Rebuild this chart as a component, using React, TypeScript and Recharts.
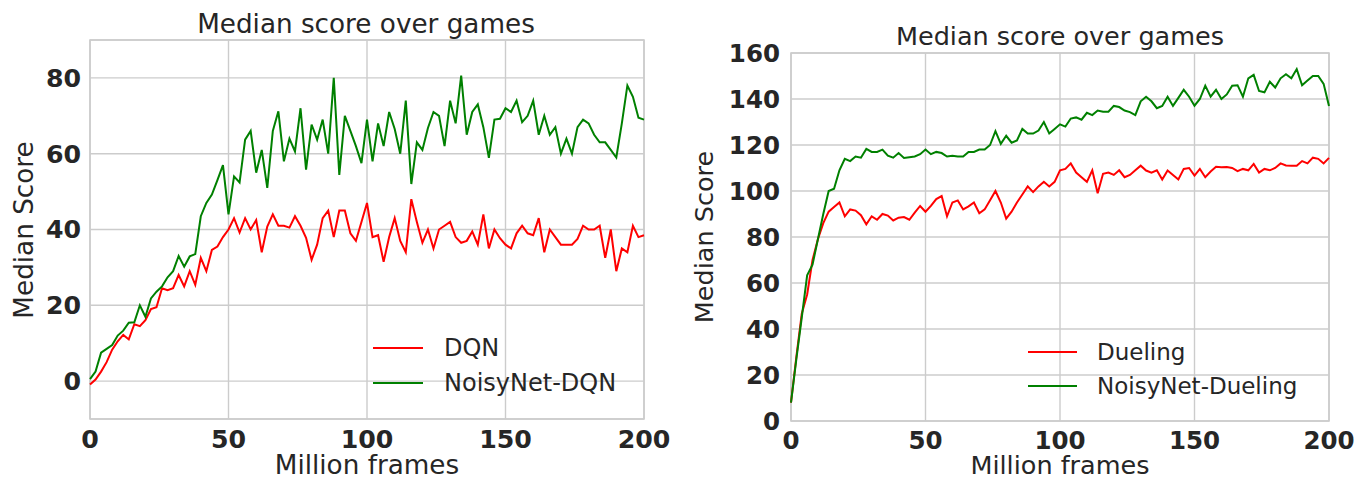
import { LineChart, Line, XAxis, YAxis, CartesianGrid, ReferenceArea } from "recharts";

// million frames, sampled every 2M
const frames = [
  0, 2, 4, 6, 8, 10, 12, 14, 16, 18, 20, 22, 24, 26, 28, 30, 32, 34, 36, 38, 40, 42, 44, 46, 48, 50,
  52, 54, 56, 58, 60, 62, 64, 66, 68, 70, 72, 74, 76, 78, 80, 82, 84, 86, 88, 90, 92, 94, 96, 98, 100,
  102, 104, 106, 108, 110, 112, 114, 116, 118, 120, 122, 124, 126, 128, 130, 132, 134, 136, 138, 140,
  142, 144, 146, 148, 150, 152, 154, 156, 158, 160, 162, 164, 166, 168, 170, 172, 174, 176, 178, 180,
  182, 184, 186, 188, 190, 192, 194, 196, 198, 200,
];

const dqn = [
  -0.9, 0.4, 2.5, 5, 8.3, 10.5, 12.2, 11, 15, 14.5, 16.1, 19, 19.5, 24.5, 24, 24.5, 28, 25, 29, 25.4,
  32.5, 29, 34.6, 35.5, 38, 40, 43, 39.2, 43, 40, 42.5, 34, 40.8, 44, 41, 41, 40.5, 43.5, 41, 37.8,
  32, 36, 43, 45, 38, 45, 45, 39, 37, 42, 47, 38, 38.5, 31.5, 38, 43, 37, 34, 48, 42, 36.5, 40, 35,
  40, 41, 42, 38, 36.5, 37, 39.5, 36, 44, 35, 40, 37.7, 36, 35, 39, 41, 39, 38.5, 43, 34, 40, 38, 36,
  36, 36, 37.5, 41, 40, 40, 41, 32.5, 40, 29, 35, 34, 41, 38, 38.5,
];

const noisyDqn = [
  0.5, 2.5, 7.5, 8.5, 9.5, 12, 13.3, 15.4, 15.5, 20, 17, 21.8, 23.6, 25, 27.4, 29, 33, 30.2, 32.9,
  33.5, 43.5, 47, 49.2, 53, 57, 44, 54, 52.4, 63.7, 66, 55, 61, 51, 66, 71.2, 58, 64, 60.6, 72, 55.8,
  67.7, 63.7, 69, 60, 80, 54.4, 70, 66, 62, 57.5, 69, 58, 68, 62, 71, 66.5, 60, 74, 52, 63, 61, 66.8,
  71, 70, 62, 74, 68, 80.6, 65, 71, 73, 67, 58.9, 69, 69.2, 72, 71, 74, 68.3, 70, 74, 65, 70, 65, 67,
  60, 64, 60, 67, 69, 68, 65, 63, 63, 61, 59, 68, 78, 75, 69.5, 69,
];

const dueling = [
  8, 28, 46.6, 55, 70, 79, 86, 91, 93, 95, 89, 92, 91.5, 89.5, 85.5, 89, 87.5, 90, 89.3, 87.2, 88.4,
  88.7, 87.5, 90.6, 93.5, 91, 93.5, 96.5, 97.8, 89, 95, 95.9, 92, 93.3, 95, 90.3, 92, 96, 100, 95, 88,
  91, 95, 98.5, 102, 99.5, 102, 104, 102, 104, 109, 109.6, 112, 108, 106, 104, 109, 99, 107.5, 108,
  107, 109, 106, 107, 109, 111, 108.9, 108, 109, 105, 108.9, 107, 105, 109.6, 110, 106.7, 109.6, 106,
  108.5, 110.5, 110.3, 110.4, 110, 108.6, 109.6, 109, 111.8, 108, 109.6, 109, 110, 112, 111.1, 111,
  111, 113, 112, 114.5, 114, 112, 114.4,
];

const noisyDueling = [
  8, 27, 45, 63.3, 68, 79, 90, 100, 101, 109, 114, 113, 115, 114.5, 118.3, 117, 117, 118, 115.4,
  114.5, 116.5, 114.4, 114.7, 115, 116, 118, 116, 117, 116.5, 115, 115.3, 115, 115, 117, 117, 118,
  118, 120, 126, 120.5, 124, 121, 122, 127, 125, 125, 126.3, 130, 125, 127, 129, 128, 131.5, 132, 131,
  134, 133, 135, 134.5, 134.5, 137, 136.5, 135, 134.3, 133, 139, 141, 139, 136, 137, 141, 137, 140.5,
  144, 141, 137.1, 140, 145.8, 141, 144, 140, 142, 145.8, 146, 141, 149, 150.5, 143.5, 142.9, 147.5,
  145, 149, 150.8, 149, 153, 146, 148, 150, 150, 146.6, 137,
];

const xTicks = [0, 50, 100, 150, 200];
const leftYTicks = [0, 20, 40, 60, 80];
const rightYTicks = [0, 20, 40, 60, 80, 100, 120, 140, 160];

const leftNames = ["DQN", "NoisyNet-DQN"];
const rightNames = ["Dueling", "NoisyNet-Dueling"];
const colors = ["#ff0000", "#008000"];

const leftData = frames.map((f, i) => ({ frame: f, a: dqn[i], b: noisyDqn[i] }));
const rightData = frames.map((f, i) => ({ frame: f, a: dueling[i], b: noisyDueling[i] }));

const FONT = "'DejaVu Sans', sans-serif";
const INK = "#262626";
const GRID = "#cccccc";

interface PanelProps {
  left: number;
  width: number;
  data: { frame: number; a: number; b: number }[];
  names: string[];
  yDomain: [number, number];
  yTicks: number[];
  yAxisWidth: number;
  yTickMargin: number;
  margin: { top: number; right: number; bottom: number; left: number };
  titleX: number;
  titleY: number;
  labelX: number;
  yLabelX: number;
  yLabelY: number;
  legend: { x: number; y: number; row: number; line: number; gap: number; size: number };
  fontScale: number;
}

function Panel(p: PanelProps) {
  const tick = { fontSize: 24.5 * p.fontScale, fontWeight: 700, fill: INK, fontFamily: FONT };
  const labelSize = 25.5 * p.fontScale;
  return (
    <div style={{ position: "absolute", left: p.left, top: 0, width: p.width, height: 481 }}>
      <LineChart width={p.width} height={481} data={p.data} margin={p.margin}>
        <CartesianGrid stroke={GRID} strokeWidth={1.4} />
        <XAxis
          type="number"
          dataKey="frame"
          domain={[0, 200]}
          ticks={xTicks}
          height={50}
          tickSize={0}
          tickMargin={11}
          axisLine={false}
          tick={tick}
        />
        <YAxis
          type="number"
          domain={p.yDomain}
          ticks={p.yTicks}
          width={p.yAxisWidth}
          tickSize={0}
          tickMargin={p.yTickMargin}
          axisLine={false}
          tick={tick}
          allowDataOverflow
        />
        <ReferenceArea
          x1={0}
          x2={200}
          y1={p.yDomain[0]}
          y2={p.yDomain[1]}
          fill="none"
          fillOpacity={0}
          stroke={GRID}
          strokeWidth={1.6}
        />
        <Line type="linear" dataKey="a" name={p.names[0]} stroke={colors[0]} strokeWidth={2} dot={false} isAnimationActive={false} />
        <Line type="linear" dataKey="b" name={p.names[1]} stroke={colors[1]} strokeWidth={2} dot={false} isAnimationActive={false} />
      </LineChart>
      <svg
        width={p.width}
        height={481}
        style={{ position: "absolute", left: 0, top: 0, pointerEvents: "none" }}
        fontFamily={FONT}
        fill={INK}
      >
        <text x={p.titleX} y={p.titleY} textAnchor="middle" fontSize={labelSize}>
          Median score over games
        </text>
        <text x={p.labelX} y={474} textAnchor="middle" fontSize={labelSize}>
          Million frames
        </text>
        <text
          x={p.yLabelX}
          y={p.yLabelY}
          textAnchor="middle"
          fontSize={labelSize}
          transform={`rotate(-90 ${p.yLabelX} ${p.yLabelY})`}
        >
          Median Score
        </text>
      </svg>
      <div style={{ position: "absolute", left: p.legend.x, top: p.legend.y, fontFamily: FONT, color: INK }}>
        {p.names.map((n, i) => (
          <div key={n} style={{ display: "flex", alignItems: "center", height: p.legend.row, whiteSpace: "nowrap" }}>
            <svg width={p.legend.line} height={4}>
              <line x1={0} x2={p.legend.line} y1={2} y2={2} stroke={colors[i]} strokeWidth={2} />
            </svg>
            <span style={{ marginLeft: p.legend.gap, fontSize: p.legend.size }}>{n}</span>
          </div>
        ))}
      </div>
    </div>
  );
}

export default function App() {
  return (
    <div style={{ position: "absolute", left: 0, top: 0, width: 1355, height: 481, background: "#fff", overflow: "hidden" }}>
      <Panel
        left={0}
        width={680}
        data={leftData}
        names={leftNames}
        yDomain={[-10, 90]}
        yTicks={leftYTicks}
        yAxisWidth={90}
        yTickMargin={9}
        margin={{ top: 40, right: 36, bottom: 12, left: 0 }}
        titleX={366}
        titleY={33}
        labelX={367}
        yLabelX={33}
        yLabelY={230}
        legend={{ x: 373, y: 330, row: 35, line: 50, gap: 21, size: 24 }}
        fontScale={1.03}
      />
      <Panel
        left={680}
        width={675}
        data={rightData}
        names={rightNames}
        yDomain={[0, 160]}
        yTicks={rightYTicks}
        yAxisWidth={111}
        yTickMargin={11}
        margin={{ top: 53, right: 26, bottom: 10, left: 0 }}
        titleX={380}
        titleY={45}
        labelX={380}
        yLabelX={33}
        yLabelY={237}
        legend={{ x: 348, y: 335, row: 34, line: 49, gap: 20, size: 23 }}
        fontScale={1}
      />
    </div>
  );
}
